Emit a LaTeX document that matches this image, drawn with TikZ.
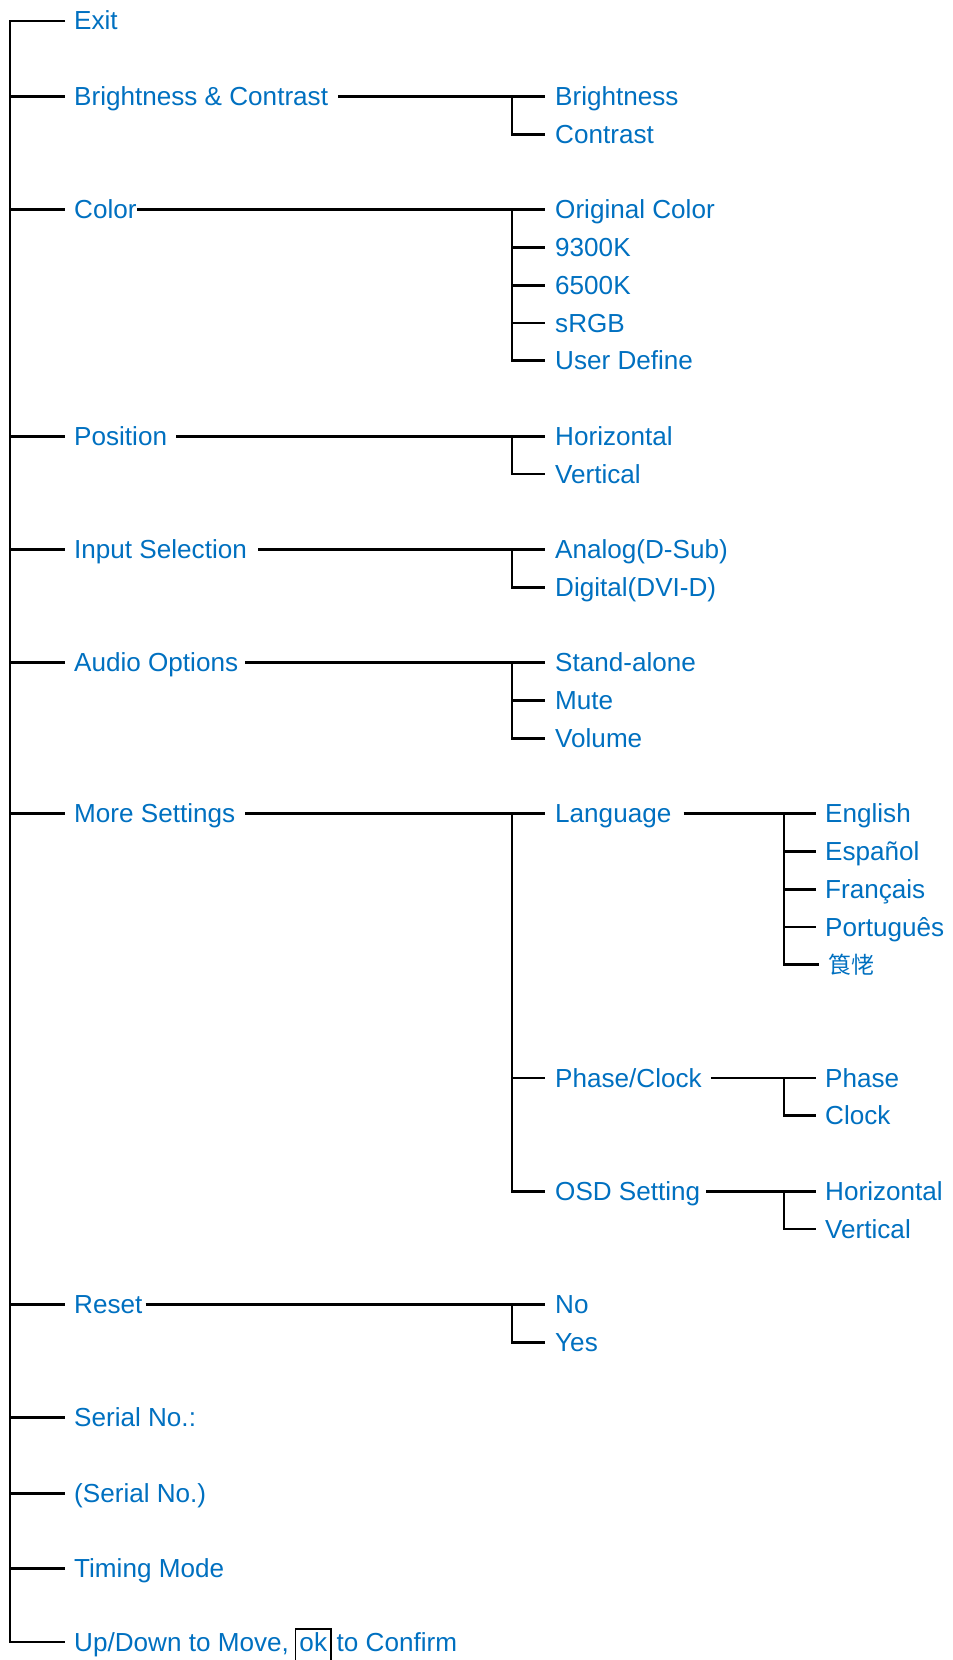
\documentclass[tikz,border=0pt]{standalone}
\usepackage{fontspec}
\setmainfont{Liberation Sans}
\newfontfamily\cjk{Noto Sans CJK SC}
\usepackage{tikz}
\usetikzlibrary{positioning}
\definecolor{menublue}{RGB}{0,112,192}

\begin{document}
\begin{tikzpicture}[
    x=1pt, y=-37.75pt,
    item/.style={anchor=west, inner sep=0pt, text=menublue, font=\fontsize{26.1}{30}\selectfont, text height=18pt, text depth=0pt},
    okbox/.style={item, draw=black, line width=1.8pt, inner xsep=4pt, text height=22pt, text depth=14pt},
    link/.style={line width=2.7pt}
]
\useasboundingbox (0,-0.5563) rectangle (952,43.417);

% spines
\coordinate (sp1) at (10,0);
\coordinate (sp2) at (512,0);
\coordinate (sp3) at (784,0);

% main menu
\node[item] (exit) at (74,0) {Exit};
\node[item] (bc) at (74,2) {Brightness \& Contrast};
\node[item] (color) at (74,5) {Color};
\node[item] (position) at (74,11) {Position};
\node[item] (input) at (74,14) {Input Selection};
\node[item] (audio) at (74,17) {Audio Options};
\node[item] (more) at (74,21) {More Settings};
\node[item] (reset) at (74,34) {Reset};
\node[item] (serial) at (74,37) {Serial No.:};
\node[item] (serialval) at (74,39) {(Serial No.)};
\node[item] (timing) at (74,41) {Timing Mode};
\node[item] (updown) at (74,42.94) {Up/Down to Move,};
\node[okbox, anchor=base west] (ok) at ([xshift=5.5pt]updown.base east) {ok};
\node[item, anchor=base west] (confirm) at ([xshift=4.5pt]ok.base east) {to Confirm};

% sub menus
\node[item] (bright) at (555,2) {Brightness};
\node[item] (contrast) at (555,3) {Contrast};
\node[item] (orig) at (555,5) {Original Color};
\node[item] (k9300) at (555,6) {9300K};
\node[item] (k6500) at (555,7) {6500K};
\node[item] (srgb) at (555,8) {sRGB};
\node[item] (user) at (555,9) {User Define};
\node[item] (poshor) at (555,11) {Horizontal};
\node[item] (posver) at (555,12) {Vertical};
\node[item] (analog) at (555,14) {Analog(D-Sub)};
\node[item] (digital) at (555,15) {Digital(DVI-D)};
\node[item] (stand) at (555,17) {Stand-alone};
\node[item] (mute) at (555,18) {Mute};
\node[item] (volume) at (555,19) {Volume};
\node[item] (lang) at (555,21) {Language};
\node[item] (phaseclock) at (555,28) {Phase/Clock};
\node[item] (osd) at (555,31) {OSD Setting};
\node[item] (no) at (555,34) {No};
\node[item] (yes) at (555,35) {Yes};

% third level
\node[item] (english) at (825,21) {English};
\node[item] (espanol) at (825,22) {Español};
\node[item] (francais) at (825,23) {Français};
\node[item] (portugues) at (825,24) {Português};
\node[item, font=\cjk\fontsize{23}{26}\selectfont] (chinese) at (828,25) {筤恅};
\node[item] (phase) at (825,28) {Phase};
\node[item] (clock) at (825,29) {Clock};
\node[item] (osdhor) at (825,31) {Horizontal};
\node[item] (osdver) at (825,32) {Vertical};

% main spine
\draw[link, shorten <=9pt, shorten >=9pt] (exit.west) -| (sp1 |- updown.west) -- (updown.west);
\foreach \n in {bc,color,position,input,audio,more,reset,serial,serialval,timing}
    \draw[link, shorten >=9pt] (sp1 |- \n.west) -- (\n.west);

% level 2 links
\draw[link, shorten <=10pt, shorten >=10pt] (bc.east) -- (bright.west);
\draw[link, shorten >=10pt] (sp2 |- bright.west) |- (contrast.west);
\draw[link, shorten >=10pt] (color.east) -- (orig.west);
\foreach \n in {k9300,k6500,srgb,user}
    \draw[link, shorten >=10pt] (sp2 |- orig.west) |- (\n.west);
\draw[link, shorten <=9pt, shorten >=10pt] (position.east) -- (poshor.west);
\draw[link, shorten >=10pt] (sp2 |- poshor.west) |- (posver.west);
\draw[link, shorten <=11pt, shorten >=10pt] (input.east) -- (analog.west);
\draw[link, shorten >=10pt] (sp2 |- analog.west) |- (digital.west);
\draw[link, shorten <=7pt, shorten >=10pt] (audio.east) -- (stand.west);
\foreach \n in {mute,volume}
    \draw[link, shorten >=10pt] (sp2 |- stand.west) |- (\n.west);
\draw[link, shorten <=10pt, shorten >=10pt] (more.east) -- (lang.west);
\foreach \n in {phaseclock,osd}
    \draw[link, shorten >=10pt] (sp2 |- lang.west) |- (\n.west);
\draw[link, shorten <=3pt, shorten >=10pt] (reset.east) -- (no.west);
\draw[link, shorten >=10pt] (sp2 |- no.west) |- (yes.west);

% level 3 links
\draw[link, shorten <=12pt, shorten >=9pt] (lang.east) -- (english.west);
\foreach \n in {espanol,francais,portugues,chinese}
    \draw[link, shorten >=9pt] (sp3 |- english.west) |- (\n.west);
\draw[link, shorten <=9pt, shorten >=9pt] (phaseclock.east) -- (phase.west);
\draw[link, shorten >=9pt] (sp3 |- phase.west) |- (clock.west);
\draw[link, shorten <=6pt, shorten >=9pt] (osd.east) -- (osdhor.west);
\draw[link, shorten >=9pt] (sp3 |- osdhor.west) |- (osdver.west);
\end{tikzpicture}
\end{document}
